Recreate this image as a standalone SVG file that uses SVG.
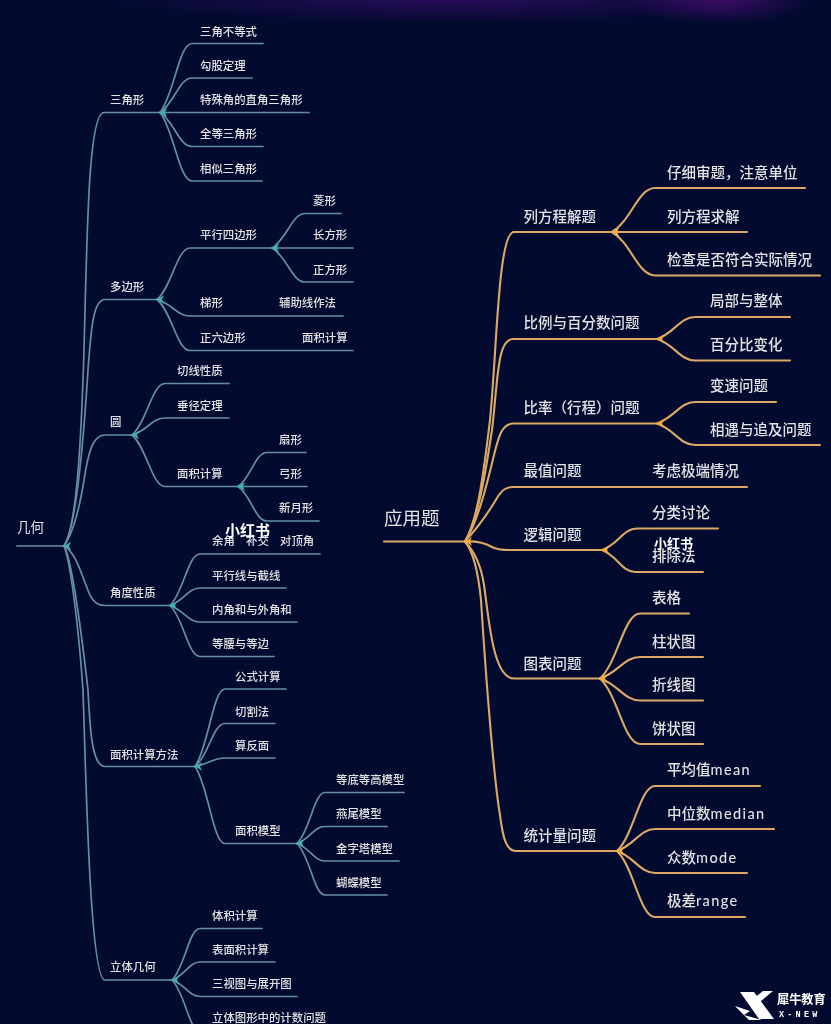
<svg xmlns="http://www.w3.org/2000/svg" width="831" height="1024" viewBox="0 0 831 1024">
<style>
text{font-family:"Noto Sans CJK SC","Noto Sans",sans-serif;fill:#e2e2e2;filter:url(#soft)}
.s{font-size:11.4px;font-weight:500}
.m{font-size:14.5px;font-weight:500}
.r{font-size:13.5px}
.b{font-size:18.5px}
.w{fill:#fff;font-weight:700}
.t path,.o path{fill:none;stroke-linecap:round}
.t path{stroke:#648fa3;stroke-width:1.7}
.o path{stroke:#dba964;stroke-width:2.1}
.hl{fill:#3fb3b3}
.hr{fill:#f8ad3a}
.lat{font-family:"Lato","Noto Sans",sans-serif;letter-spacing:1.4px}
</style>
<defs>
<filter id="soft" x="-5%" y="-20%" width="110%" height="140%"><feGaussianBlur stdDeviation="0.3"/></filter>
<radialGradient id="g1"><stop offset="0" stop-color="#3a0c66"/><stop offset="1" stop-color="#3a0c66" stop-opacity="0"/></radialGradient>
<radialGradient id="g2"><stop offset="0" stop-color="#2a0c5c"/><stop offset="1" stop-color="#2a0c5c" stop-opacity="0"/></radialGradient>
<path id="hub" d="M-5 0 0-1 5-4.5 3 0 5 4.5 0 1Z"/>
</defs>
<rect width="831" height="1024" fill="#030a30"/>
<ellipse cx="450" cy="-3" rx="340" ry="26" fill="url(#g2)"/>
<ellipse cx="720" cy="0" rx="90" ry="24" fill="url(#g1)"/>

<g id="connectors">
<g class="t">
<path d="M17 546H64"/>
<path d="M64 546C76 528 81 450 84 350C87 240 88 112.5 104 112.5H160"/>
<path d="M64 546C76 528 83 450 88 370C91 330 93 299.5 105 299.5H157"/>
<path d="M64 546C74 532 80 505 84 480C88 455 92 435 105 435H132"/>
<path d="M64 546C75 552 80 570 86 585C90 597 94 605.5 105 605.5H170"/>
<path d="M64 546C72 560 80 620 88 690C90 730 92 766.5 105 766.5H195"/>
<path d="M64 546C70 560 78 620 83 690C86 780 90 980 105 980H172"/>
<path d="M160 112.5C174 95 179 43.5 192 43.5H263"/>
<path d="M160 112.5C174 104 179 78 192 78H252"/>
<path d="M160 112.5H309"/>
<path d="M160 112.5C174 121 179 146.5 192 146.5H263"/>
<path d="M160 112.5C174 130 179 181 192 181H262"/>
<path d="M157 299.5C172 286.6 177 248 190 248H272"/>
<path d="M157 299.5C172 303.6 177 316 190 316H343"/>
<path d="M157 299.5C172 312 177 350.5 190 350.5H353"/>
<path d="M272 248C287 239 292 213.5 305 213.5H341"/>
<path d="M272 248H353"/>
<path d="M272 248C287 256.5 292 282 305 282H353"/>
<path d="M132 435C147 422 152 383.5 165 383.5H229"/>
<path d="M132 435C147 431 152 418 165 418H229"/>
<path d="M132 435C147 448 152 486.5 165 486.5H238"/>
<path d="M238 486.5C251 478 255 452.5 267 452.5H306"/>
<path d="M238 486.5H307"/>
<path d="M238 486.5C251 495 255 521 267 521H319"/>
<path d="M170 605.5C183.5 592.6 188 554 200 554H320"/>
<path d="M170 605.5C183.5 601 188 588 200 588H286"/>
<path d="M170 605.5C183.5 610 188 622 200 622H297"/>
<path d="M170 605.5C183.5 618 188 656.5 200 656.5H274"/>
<path d="M195 766.5C208.5 747 213 689 225 689H286"/>
<path d="M195 766.5C208.5 756 213 723.5 225 723.5H275"/>
<path d="M195 766.5C208.5 764 213 758 225 758H275"/>
<path d="M195 766.5C208.5 786 213 843.5 225 843.5H297"/>
<path d="M297 843.5C310 831 314 792.5 325 792.5H404"/>
<path d="M297 843.5C310 839 314 826.5 325 826.5H387"/>
<path d="M297 843.5C310 848 314 861 325 861H399"/>
<path d="M297 843.5C310 856 314 895 325 895H387"/>
<path d="M172 980C185 967 189 928.5 200 928.5H262"/>
<path d="M172 980C185 975.5 189 962 200 962H275"/>
<path d="M172 980C185 984 189 996.5 200 996.5H297"/>
<path d="M172 980C185 993 189 1031 200 1031H300"/>
</g>
<g class="o">
<path d="M384 541.5H465"/>
<path d="M465 541.5C478 520 484 470 490 420C497 350 498 232 514 232H612"/>
<path d="M465 541.5C478 520 486 470 492 430C498 380 497 339 513 339H657"/>
<path d="M465 541.5C478 522 488 480 494 455C499 435 502 423.5 514 423.5H657"/>
<path d="M465 541.5C480 525 490 510 497 498C502 490 506 487 513 487H747"/>
<path d="M465 541.5C475 541 485 543 492 547C497 550 505 550 510 550H602"/>
<path d="M465 541.5C475 552 481 565 484 585C489 620 493 678.5 514 678.5H600"/>
<path d="M465 541.5C472 550 478 570 481 600C486 680 494 780 500 815C503 840 507 851 516 851H617"/>
<path d="M612 232C631 221 638 188 655 188H805"/>
<path d="M612 232H747"/>
<path d="M612 232C631 243 638 275.5 655 275.5H820"/>
<path d="M657 339C674 333.5 680 317 695 317H790"/>
<path d="M657 339C674 344 680 360.5 695 360.5H790"/>
<path d="M657 423.5C674 418 680 402 695 402H776"/>
<path d="M657 423.5C674 429 680 445 695 445H820"/>
<path d="M602 550C618 545 623 528.5 637 528.5H718"/>
<path d="M602 550C617 555.5 622 572 635 572H703"/>
<path d="M600 678.5C618 662 624 613.5 640 613.5H689"/>
<path d="M600 678.5C618 673 624 657 640 657H703"/>
<path d="M600 678.5C618 684 624 700.5 640 700.5H703"/>
<path d="M600 678.5C618 695 624 744 640 744H703"/>
<path d="M617 851C634 835 640 786 655 786H760"/>
<path d="M617 851C634 845.5 640 829 655 829H774"/>
<path d="M617 851C634 856.5 640 873 655 873H747"/>
<path d="M617 851C634 867.5 640 917 655 917H745"/>
</g>
<g class="hl">
<use href="#hub" x="66" y="546"/><use href="#hub" x="162" y="112.5"/><use href="#hub" x="159" y="299.5"/><use href="#hub" x="274" y="248"/><use href="#hub" x="134" y="435"/><use href="#hub" x="240" y="486.5"/><use href="#hub" x="172" y="605.5"/><use href="#hub" x="197" y="766.5"/><use href="#hub" x="299" y="843.5"/><use href="#hub" x="174" y="980"/>
</g>
<g class="hr">
<use href="#hub" x="467" y="541.5"/><use href="#hub" x="614" y="232"/><use href="#hub" x="659" y="339"/><use href="#hub" x="659" y="423.5"/><use href="#hub" x="604" y="550"/><use href="#hub" x="602" y="678.5"/><use href="#hub" x="619" y="851"/>
</g>
</g>

<g id="n-root-l"><text class="r" x="17" y="532">几何</text></g>
<g id="n-l1"><text class="s" x="110" y="104">三角形</text></g>
<g id="n-l1a"><text class="s" x="200" y="35.5">三角不等式</text></g>
<g id="n-l1b"><text class="s" x="200" y="69.5">勾股定理</text></g>
<g id="n-l1c"><text class="s" x="200" y="104">特殊角的直角三角形</text></g>
<g id="n-l1d"><text class="s" x="200" y="138">全等三角形</text></g>
<g id="n-l1e"><text class="s" x="200" y="172.5">相似三角形</text></g>
<g id="n-l2"><text class="s" x="110" y="291">多边形</text></g>
<g id="n-l2a"><text class="s" x="200" y="239">平行四边形</text></g>
<g id="n-l2a1"><text class="s" x="313" y="204.5">菱形</text></g>
<g id="n-l2a2"><text class="s" x="313" y="239">长方形</text></g>
<g id="n-l2a3"><text class="s" x="313" y="273.5">正方形</text></g>
<g id="n-l2b"><text class="s" x="200" y="307">梯形</text></g>
<g id="n-l2b1"><text class="s" x="279" y="307">辅助线作法</text></g>
<g id="n-l2c"><text class="s" x="200" y="342">正六边形</text></g>
<g id="n-l2c1"><text class="s" x="302" y="342">面积计算</text></g>
<g id="n-l3"><text class="s" x="110" y="426">圆</text></g>
<g id="n-l3a"><text class="s" x="177" y="375">切线性质</text></g>
<g id="n-l3b"><text class="s" x="177" y="409.5">垂径定理</text></g>
<g id="n-l3c"><text class="s" x="177" y="478">面积计算</text></g>
<g id="n-l3c1"><text class="s" x="279" y="443.5">扇形</text></g>
<g id="n-l3c2"><text class="s" x="279" y="478">弓形</text></g>
<g id="n-l3c3"><text class="s" x="279" y="512">新月形</text></g>
<g id="n-l4"><text class="s" x="110" y="596.5">角度性质</text></g>
<g id="n-l4a"><text class="s" x="212" y="545">余角</text><text class="s" x="246" y="545">补交</text><text class="s" x="280" y="545">对顶角</text></g>
<g id="n-l4b"><text class="s" x="212" y="579.5">平行线与截线</text></g>
<g id="n-l4c"><text class="s" x="212" y="613.5">内角和与外角和</text></g>
<g id="n-l4d"><text class="s" x="212" y="648">等腰与等边</text></g>
<g id="n-l5"><text class="s" x="110" y="758.5">面积计算方法</text></g>
<g id="n-l5a"><text class="s" x="235" y="681">公式计算</text></g>
<g id="n-l5b"><text class="s" x="235" y="715.5">切割法</text></g>
<g id="n-l5c"><text class="s" x="235" y="749.5">算反面</text></g>
<g id="n-l5d"><text class="s" x="235" y="835">面积模型</text></g>
<g id="n-l5d1"><text class="s" x="336" y="783.5">等底等高模型</text></g>
<g id="n-l5d2"><text class="s" x="336" y="818">燕尾模型</text></g>
<g id="n-l5d3"><text class="s" x="336" y="853">金字塔模型</text></g>
<g id="n-l5d4"><text class="s" x="336" y="887">蝴蝶模型</text></g>
<g id="n-l6"><text class="s" x="110" y="971">立体几何</text></g>
<g id="n-l6a"><text class="s" x="212" y="919.5">体积计算</text></g>
<g id="n-l6b"><text class="s" x="212" y="953.5">表面积计算</text></g>
<g id="n-l6c"><text class="s" x="212" y="988">三视图与展开图</text></g>
<g id="n-l6d"><text class="s" x="212" y="1022">立体图形中的计数问题</text></g>

<g id="n-root-r"><text class="b" x="384" y="525">应用题</text></g>
<g id="n-r1"><text class="m" x="523.5" y="221.5">列方程解题</text></g>
<g id="n-r1a"><text class="m" x="667" y="177.5">仔细审题，注意单位</text></g>
<g id="n-r1b"><text class="m" x="667" y="221.5">列方程求解</text></g>
<g id="n-r1c"><text class="m" x="667" y="264.5">检查是否符合实际情况</text></g>
<g id="n-r2"><text class="m" x="523.5" y="328">比例与百分数问题</text></g>
<g id="n-r2a"><text class="m" x="710" y="305.5">局部与整体</text></g>
<g id="n-r2b"><text class="m" x="710" y="349.5">百分比变化</text></g>
<g id="n-r3"><text class="m" x="523.5" y="412.5">比率（行程）问题</text></g>
<g id="n-r3a"><text class="m" x="710" y="390.5">变速问题</text></g>
<g id="n-r3b"><text class="m" x="710" y="434.5">相遇与追及问题</text></g>
<g id="n-r4"><text class="m" x="523.5" y="476">最值问题</text></g>
<g id="n-r4a"><text class="m" x="652" y="476">考虑极端情况</text></g>
<g id="n-r5"><text class="m" x="523.5" y="539.5">逻辑问题</text></g>
<g id="n-r5a"><text class="m" x="652" y="517.5">分类讨论</text></g>
<g id="n-r5b"><text class="m" x="652" y="560.5">排除法</text></g>
<g id="n-r6"><text class="m" x="523.5" y="668.5">图表问题</text></g>
<g id="n-r6a"><text class="m" x="652" y="602.5">表格</text></g>
<g id="n-r6b"><text class="m" x="652" y="646.5">柱状图</text></g>
<g id="n-r6c"><text class="m" x="652" y="689.5">折线图</text></g>
<g id="n-r6d"><text class="m" x="652" y="733.5">饼状图</text></g>
<g id="n-r7"><text class="m" x="523.5" y="840.5">统计量问题</text></g>
<g id="n-r7a"><text class="m" x="667" y="774.5">平均值<tspan class="lat">mean</tspan></text></g>
<g id="n-r7b"><text class="m" x="667" y="818.5">中位数<tspan class="lat">median</tspan></text></g>
<g id="n-r7c"><text class="m" x="667" y="862.5">众数<tspan class="lat">mode</tspan></text></g>
<g id="n-r7d"><text class="m" x="667" y="905.5">极差<tspan class="lat">range</tspan></text></g>

<g id="watermarks">
<text class="w" x="225" y="536" font-size="15">小红书</text>
<text class="w" x="654" y="548" font-size="13">小红书</text>
</g>
<g id="logo">
<path d="M740 992H754L774 1019H759Z" fill="#fff"/>
<path d="M773 991H763L748 1003 754 1007Z" fill="#fff"/>
<path d="M735 1006 750 1011 744 1015 762 1020H749Z" fill="#fff"/>
<text class="w" x="777" y="1003.5" font-size="12.2">犀牛教育</text>
<text class="w" x="779" y="1016.5" font-size="8.5" letter-spacing="3.2" style="font-family:'Liberation Mono',monospace">X-NEW</text>
</g>
</svg>
